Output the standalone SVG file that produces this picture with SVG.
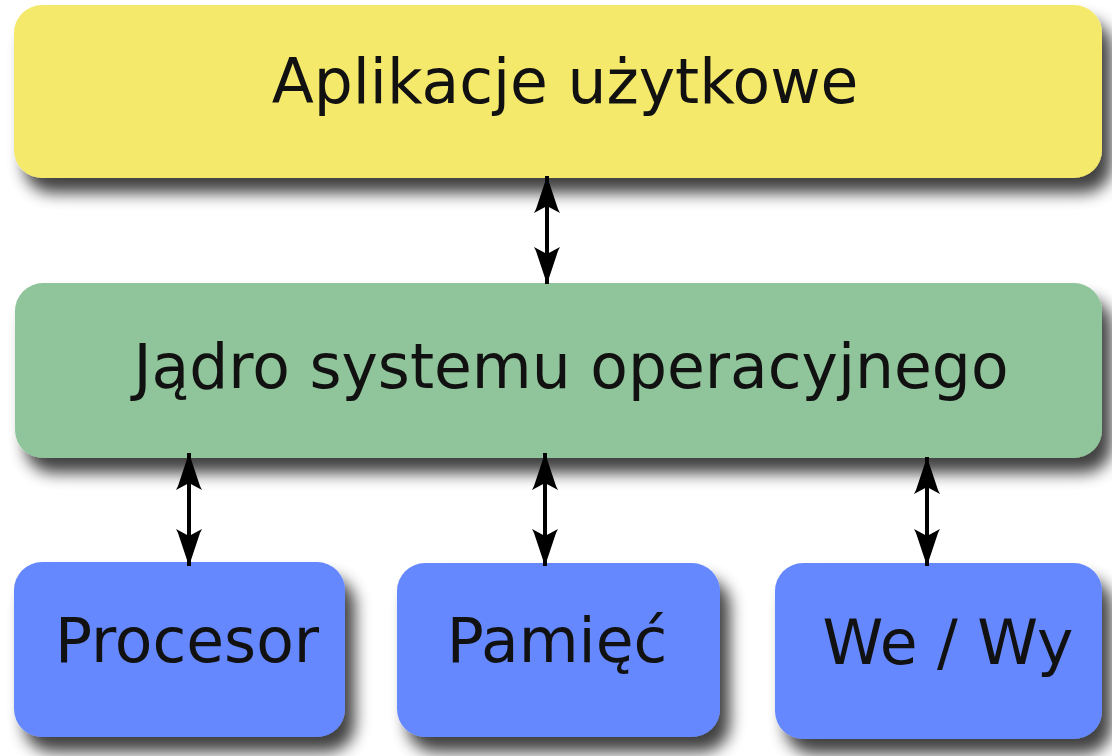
<svg xmlns="http://www.w3.org/2000/svg" width="1112" height="756" viewBox="0 0 1112 756">
  <defs>
    <filter id="shadow" x="-10%" y="-20%" width="130%" height="170%">
      <feGaussianBlur in="SourceAlpha" stdDeviation="8"/>
      <feOffset dx="10" dy="15" result="b"/>
      <feComponentTransfer><feFuncA type="linear" slope="0.75"/></feComponentTransfer>
      <feMerge><feMergeNode/><feMergeNode in="SourceGraphic"/></feMerge>
    </filter>
    <marker id="ah" viewBox="-38 -14 40 28" refX="0" refY="0" markerWidth="40" markerHeight="28" markerUnits="userSpaceOnUse" orient="auto-start-reverse">
      <path d="M0,0 L-33,-11 L-37,-13 L-30,0 L-37,13 L-33,11 Z" fill="#000"/>
    </marker>
  </defs>
  <style>
    .box { filter: url(#shadow); }
    .lbl { font-family: "DejaVu Sans", Verdana, sans-serif; font-size: 61.5px; fill: #111; text-anchor: middle; }
    .conn { stroke: #000; stroke-width: 4; fill: none; marker-start: url(#ah); marker-end: url(#ah); }
  </style>
  <rect width="1112" height="756" fill="#fff"/>
  <g id="apps">
    <rect class="box" x="14" y="5" width="1088" height="173" rx="28" fill="#f4e96a"/>
    <text class="lbl" x="565" y="103">Aplikacje użytkowe</text>
  </g>
  <g id="kernel">
    <rect class="box" x="15" y="283" width="1087" height="175" rx="28" fill="#90c49a"/>
    <text class="lbl" x="571" y="388">Jądro systemu operacyjnego</text>
  </g>
  <g id="cpu">
    <rect class="box" x="14" y="562" width="331" height="175" rx="28" fill="#6688ff"/>
    <text class="lbl" x="187" y="662">Procesor</text>
  </g>
  <g id="mem">
    <rect class="box" x="397" y="563" width="323" height="174" rx="28" fill="#6688ff"/>
    <text class="lbl" x="557" y="662">Pamięć</text>
  </g>
  <g id="io">
    <rect class="box" x="775" y="563" width="327" height="176" rx="28" fill="#6688ff"/>
    <text class="lbl" x="948" y="664">We / Wy</text>
  </g>
  <g id="connectors">
    <path class="conn" d="M547,176 L547,284"/>
    <path class="conn" d="M189,453 L189,566"/>
    <path class="conn" d="M545,453 L545,566"/>
    <path class="conn" d="M927,457 L927,566"/>
  </g>
</svg>
